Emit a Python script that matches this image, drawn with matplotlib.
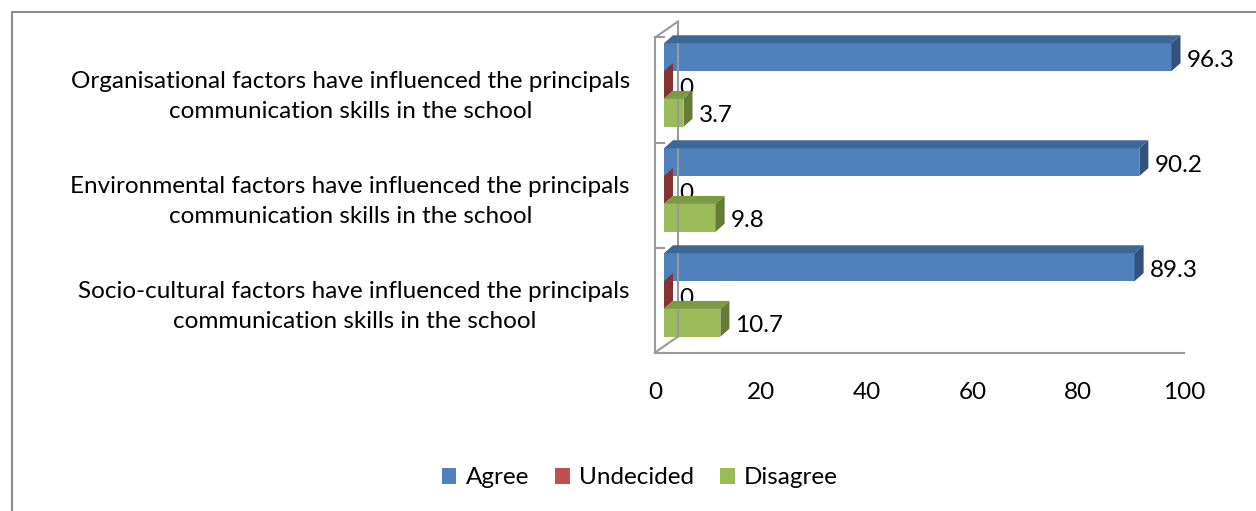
import matplotlib
matplotlib.use("Agg")
import matplotlib.pyplot as plt
from matplotlib.patches import Polygon, Patch
from matplotlib.lines import Line2D
from matplotlib.transforms import IdentityTransform
import numpy as np

plt.rcParams['font.family'] = ['Lato', 'DejaVu Sans']

categories = [
    "Organisational factors have influenced the principals\ncommunication skills in the school",
    "Environmental factors have influenced the principals\ncommunication skills in the school",
    "Socio-cultural factors have influenced the principals\ncommunication skills in the school",
]
series_names = ["Agree", "Undecided", "Disagree"]
agree = [96.3, 90.2, 89.3]
undecided = [0, 0, 0]
disagree = [3.7, 9.8, 10.7]
xticks = [0, 20, 40, 60, 80, 100]

front_colors = ["#4F81BD", "#C0504D", "#9BBB59"]
top_colors = ["#3D6796", "#99403E", "#7A9A44"]
side_colors = ["#31527C", "#86332F", "#647C34"]

W, H = 1256, 511
fig = plt.figure(figsize=(W / 100, H / 100), dpi=100)
FS = 17.5

def fr(x, y, w, h):
    return [x / W, 1 - (y + h) / H, w / W, h / H]

# outer border
fig.add_artist(Line2D([12 / W, 12 / W, 1], [0, 1 - 12 / H, 1 - 12 / H],
                      transform=fig.transFigure, color="#8C8C8C", lw=1.5))

# front plane axes (walls, ticks)
ax2 = fig.add_axes(fr(655, 37.5, 529, 315))
ax2.set_xlim(0, 100)
ax2.set_ylim(2.5, -0.5)
ax2.patch.set_visible(False)
for s in ["top", "right"]:
    ax2.spines[s].set_visible(False)
for s in ["left", "bottom"]:
    ax2.spines[s].set_color("#9A9A9A")
    ax2.spines[s].set_linewidth(1.5)
ax2.set_xticks(xticks)
ax2.set_xticklabels([str(t) for t in xticks], fontsize=FS)
ax2.tick_params(axis="x", length=0, pad=21)
ax2.set_yticks(range(len(categories)))
ax2.set_yticklabels(categories, fontsize=FS)
for t in ax2.get_yticklabels():
    t.set_multialignment("center")
    t.set_linespacing(1.55)
ax2.tick_params(axis="y", which="major", length=0, pad=18)
ax2.set_yticks([-0.5, 0.5, 1.5, 2.5], minor=True)
ax2.tick_params(axis="y", which="minor", direction="in", length=7, width=1.5, color="#9A9A9A")

# back wall lines
d2 = ax2.transData
def disp(tr, x, y):
    return tr.transform((x, y))
BX, BY = 23, 16
for yv in [-0.5, 2.5]:
    p = disp(d2, 0, yv)
    fig.add_artist(Line2D([p[0], p[0] + BX], [p[1], p[1] + BY], transform=IdentityTransform(),
                          color="#9A9A9A", lw=1.5))
p0 = disp(d2, 0, -0.5)
p1 = disp(d2, 0, 2.5)
fig.add_artist(Line2D([p0[0] + BX, p1[0] + BX], [p0[1] + BY, p1[1] + BY], transform=IdentityTransform(),
                      color="#9A9A9A", lw=1.5))

# bar plane axes
ax = fig.add_axes(fr(664, 32.5, 527, 315))
ax.set_xlim(0, 100)
ax.set_ylim(2.5, -0.5)
ax.axis("off")

h = 0.265
DX, DY = 9, 8
series = [agree, undecided, disagree]
for i in range(len(categories)):
    for j, vals in enumerate(series):
        v = vals[i]
        yc = i + (j - 1) * h
        ax.barh(yc, v, height=h, color=front_colors[j], zorder=3 + j, clip_on=False,
                edgecolor="none")
        tl = disp(ax.transData, 0, yc - h / 2)
        tr_ = disp(ax.transData, v, yc - h / 2)
        br = disp(ax.transData, v, yc + h / 2)
        top = [tl, tr_, (tr_[0] + DX, tr_[1] + DY), (tl[0] + DX, tl[1] + DY)]
        side = [tr_, br, (br[0] + DX, br[1] + DY), (tr_[0] + DX, tr_[1] + DY)]
        fig.add_artist(Polygon(top, closed=True, transform=IdentityTransform(),
                               facecolor=top_colors[j], edgecolor="none", zorder=3 + j))
        fig.add_artist(Polygon(side, closed=True, transform=IdentityTransform(),
                               facecolor=side_colors[j], edgecolor="none", zorder=3 + j))
        ax.annotate(f"{v:g}", xy=(v, yc), xytext=(15 * 0.72, -3 * 0.72),
                    textcoords="offset points", va="center", ha="left",
                    fontsize=FS, zorder=10, annotation_clip=False)

handles = [Patch(facecolor=c, edgecolor="none") for c in front_colors]
fig.legend(handles, series_names, loc="center", bbox_to_anchor=(640 / W, 1 - 478 / H),
           ncol=3, frameon=False, fontsize=FS, handlelength=0.6, handleheight=0.6,
           handletextpad=0.4, columnspacing=1.05)

fig.savefig("out.png", dpi=100)
